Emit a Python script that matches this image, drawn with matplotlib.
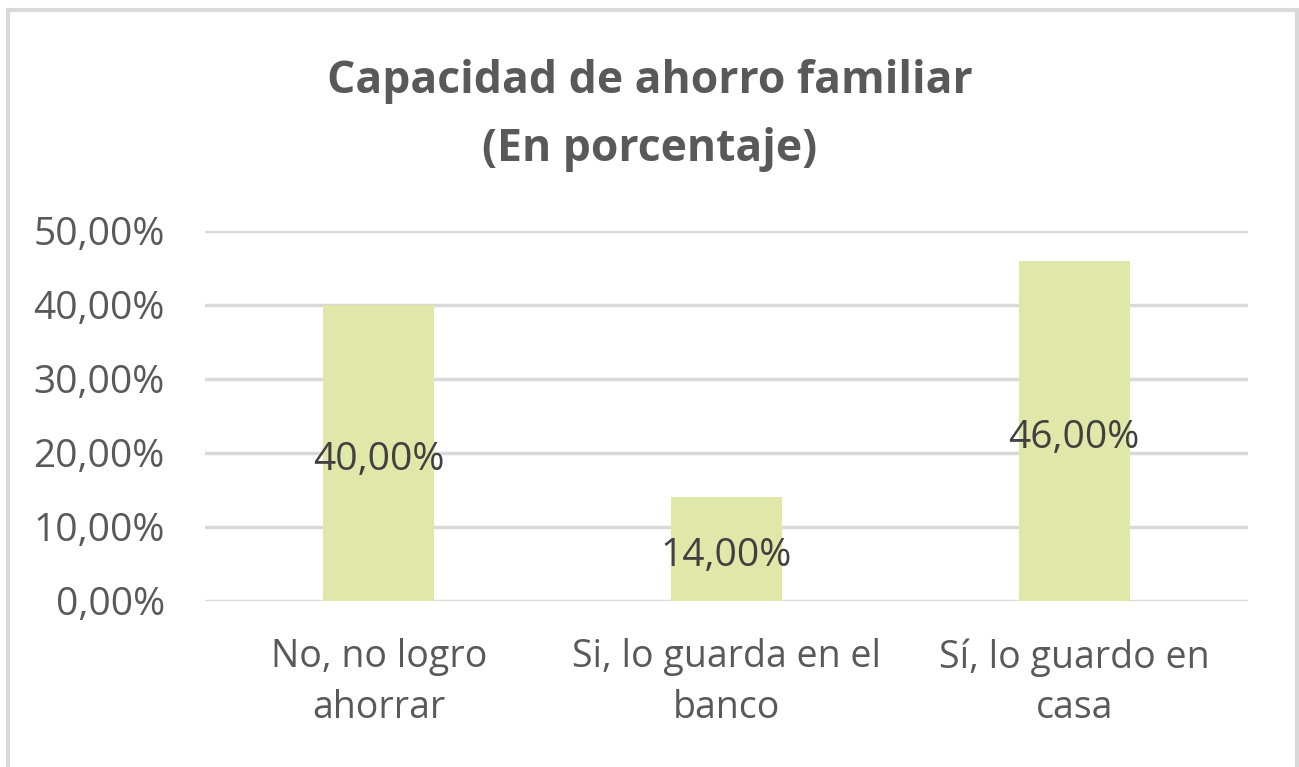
import matplotlib.pyplot as plt
from matplotlib.patches import Rectangle
from matplotlib.ticker import FuncFormatter

# Data
categories = ["No, no logro\nahorrar", "Si, lo guarda en el\nbanco", "Sí, lo guardo en\ncasa"]
values = [40.0, 14.0, 46.0]
yticks = [0, 10, 20, 30, 40, 50]

plt.rcParams['font.family'] = ['Open Sans', 'DejaVu Sans']

W, H = 1299, 767
fig = plt.figure(figsize=(W / 100, H / 100), dpi=100)

# light gray frame around the chart area (bottom edge runs off the image)
fig.patches.append(Rectangle((8 / W, -4 / H), 1289 / W, 761 / H, transform=fig.transFigure,
                             fill=False, edgecolor='#D9D9D9', linewidth=3))

ax = fig.add_axes([205 / W, 1 - 601 / H, (1248 - 205) / W, (601 - 231) / H])

x = range(len(categories))
bars = ax.bar(x, values, width=0.32, color='#DFE8A8', zorder=2)

for b, v in zip(bars, values):
    ax.annotate(f"{v:.2f}%".replace('.', ','), (b.get_x() + b.get_width() / 2, v / 2),
                xytext=(0, -5), textcoords='offset points',
                ha='center', va='center', fontsize=28, color='#404040', zorder=3)

ax.set_xlim(-0.5, len(categories) - 0.5)
ax.set_ylim(0, 50)
ax.set_yticks(yticks)
ax.yaxis.set_major_formatter(FuncFormatter(lambda v, p: f"{v:.2f}%".replace('.', ',')))
ax.set_xticks(list(x))
ax.set_xticklabels(categories, linespacing=1.42)

ax.grid(axis='y', color='#D9D9D9', linewidth=2.5, zorder=0)
ax.tick_params(axis='both', length=0, labelsize=28, labelcolor='#595959')
ax.tick_params(axis='y', pad=29)
ax.tick_params(axis='x', pad=27, labelsize=27)
for s in ax.spines.values():
    s.set_visible(False)

fig.text(650 / W, 1 - 82 / H, "Capacidad de ahorro familiar", ha='center', va='center',
         fontsize=32, fontweight='bold', color='#595959')
fig.text(650 / W, 1 - 150 / H, "(En porcentaje)", ha='center', va='center',
         fontsize=32, fontweight='bold', color='#595959')

fig.savefig('out.png', dpi=100)
